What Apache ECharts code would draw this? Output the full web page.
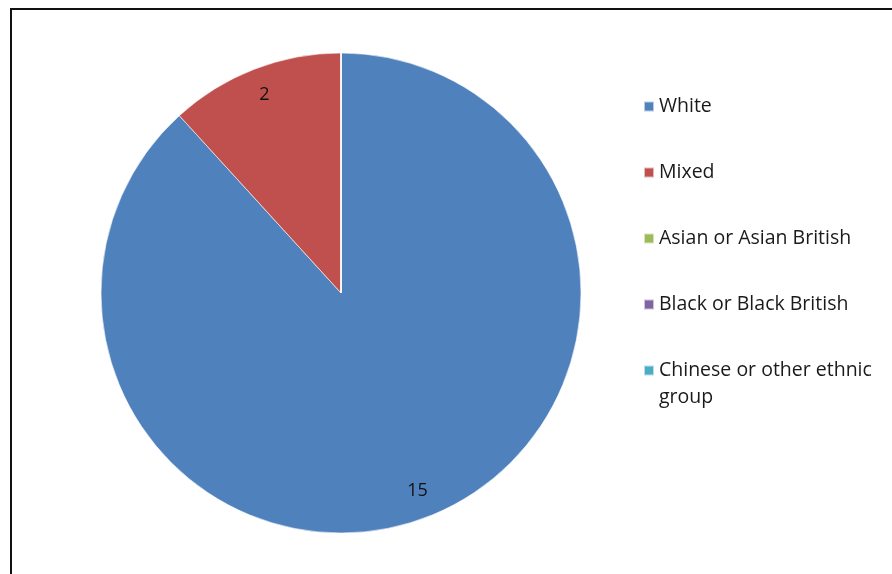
<!DOCTYPE html>
<html>
<head>
<meta charset="utf-8">
<script src="https://cdn.jsdelivr.net/npm/echarts@6/dist/echarts.min.js"></script>
<style>html,body{margin:0;padding:0;background:#fff}#c{width:892px;height:574px}</style>
</head>
<body>
<div id="c"></div>
<script>
const categories = ['White', 'Mixed', 'Asian or Asian British', 'Black or Black British', 'Chinese or other ethnic group'];
const values = [15, 2, 0, 0, 0];
const colors = ['#4F81BD', '#C0504D', '#9BBB59', '#8064A2', '#4BACC6'];
const legendLines = ['White', 'Mixed', 'Asian or Asian British', 'Black or Black British', 'Chinese or other ethnic'];
const wrapLine = 'group';

const chart = echarts.init(document.getElementById('c'));
const data = categories.map((n, i) => ({ name: n, value: values[i], itemStyle: { color: colors[i] } }));
const fontFam = 'Open Sans, Liberation Sans, Arial, sans-serif';
chart.setOption({
  animation: false,
  graphic: [{
    type: 'rect', shape: { x: 11, y: 9, width: 900, height: 600 },
    style: { fill: 'none', stroke: '#111', lineWidth: 2 }, silent: true
  }, {
    type: 'text', left: 659, top: 387,
    style: { text: wrapLine, font: '19.5px Open Sans, Liberation Sans, sans-serif', fill: '#1a1a1a' }, silent: true
  }],
  legend: {
    orient: 'vertical', left: 638, top: 87,
    itemWidth: 10, itemHeight: 10, itemGap: 37, icon: 'rect',
    textStyle: { fontFamily: fontFam, fontSize: 19.5, color: '#1a1a1a', lineHeight: 29 },
    data: categories,
    formatter: n => legendLines[categories.indexOf(n)],
    selectedMode: false
  },
  series: [{
    type: 'pie', center: [341, 293], radius: [0, 240], startAngle: 90, clockwise: true,
    data: data, silent: true,
    itemStyle: { borderColor: 'rgba(255,255,255,0.6)', borderWidth: 1 },
    label: { show: false }, labelLine: { show: false }
  }, {
    type: 'pie', center: [341, 293], radius: [178, 240], startAngle: 90, clockwise: true,
    data: data.map(d => ({ name: d.name, value: d.value, itemStyle: { color: 'transparent' } })),
    silent: true, legendHoverLink: false,
    label: { show: true, position: 'inside', fontFamily: fontFam, fontSize: 18, color: '#111',
      formatter: p => p.value ? String(p.value) : '' },
    labelLine: { show: false }
  }]
});
</script>
</body>
</html>
